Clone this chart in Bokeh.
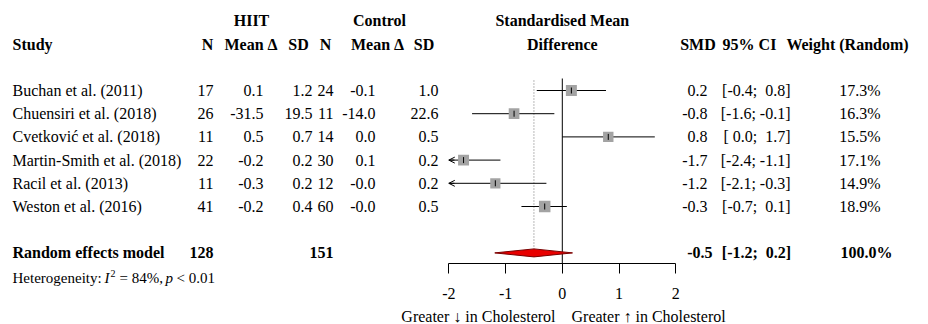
import numpy as np
from bokeh.plotting import figure
from bokeh.models import Range1d, LinearAxis, FixedTicker, Arrow, OpenHead
from bokeh.core.properties import value
from bokeh.embed import file_html
from bokeh.resources import INLINE

# ---------------- data ----------------
studies = ["Buchan et al. (2011)", "Chuensiri et al. (2018)", "Cvetković et al. (2018)",
           "Martin-Smith et al. (2018)", "Racil et al. (2013)", "Weston et al. (2016)"]
hiit_n = ["17", "26", "11", "22", "11", "41"]
hiit_mean = ["0.1", "-31.5", "0.5", "-0.2", "-0.3", "-0.2"]
hiit_sd = ["1.2", "19.5", "0.7", "0.2", "0.2", "0.4"]
ctrl_n = ["24", "11", "14", "30", "12", "60"]
ctrl_mean = ["-0.1", "-14.0", "0.0", "0.1", "-0.0", "-0.0"]
ctrl_sd = ["1.0", "22.6", "0.5", "0.2", "0.2", "0.5"]
smd = [0.16, -0.85, 0.81, -1.74, -1.18, -0.31]
ci_low = [-0.45, -1.59, 0.0, -2.4, -2.1, -0.72]
ci_high = [0.77, -0.14, 1.63, -1.09, -0.28, 0.08]
smd_text = ["0.2", "-0.8", "0.8", "-1.7", "-1.2", "-0.3"]
ci_text = ["[-0.4;  0.8]", "[-1.6; -0.1]", "[ 0.0;  1.7]", "[-2.4; -1.1]", "[-2.1; -0.3]", "[-0.7;  0.1]"]
weights = [17.3, 16.3, 15.5, 17.1, 14.9, 18.9]
weight_text = ["17.3%", "16.3%", "15.5%", "17.1%", "14.9%", "18.9%"]
pooled = {"smd": -0.50, "low": -1.19, "high": 0.18}
pooled_text = {"smd": "-0.5", "ci": "[-1.2;  0.2]", "w": "100.0%"}
total_hiit, total_ctrl = "128", "151"
ticks = [-2, -1, 0, 1, 2]
tick_labels = ["-2", "-1", "0", "1", "2"]

# ---------------- layout constants ----------------
W, H = 928, 324
FONT = "Liberation Serif"
ZERO_PX = 561.8          # page px of SMD 0
SCALE = 56.75            # px per SMD unit
def X(px):
    return (px - ZERO_PX) / SCALE
def Y(py):
    return py

ROW0, DY = 90.0, 23.2
row_y = [Y(ROW0 + DY * i) for i in range(len(studies))]
pool_y = Y(ROW0 + DY * 7)
het_y = Y(277)
h1_y = Y(ROW0 - DY * 3)
h2_y = Y(ROW0 - DY * 2)

p = figure(width=W, height=H, output_backend="svg", toolbar_location=None,
           x_range=Range1d(X(0), X(W)), y_range=Range1d(H, 0),
           x_axis_type=None, y_axis_type=None,
           min_border=0, min_border_left=0, min_border_right=0,
           min_border_top=0, min_border_bottom=0)
p.outline_line_color = None
p.background_fill_color = "white"

def txt(x, y, texts, align="left", bold=False, italic=False, size="16px", color="black"):
    n = len(texts)
    xs = x if isinstance(x, list) else [x] * n
    ys = y if isinstance(y, list) else [y] * n
    style = "bold" if bold else ("italic" if italic else "normal")
    p.text(x=xs, y=ys, text=texts, text_align=align, text_baseline="middle",
           text_font=value(FONT), text_font_size=value(size), text_font_style=style,
           text_color=color)

nb = lambda s: s.replace(" ", "\u00a0")

# headers
txt(X(251), h1_y, ["HIIT"], "center", bold=True)
txt(X(379), h1_y, ["Control"], "center", bold=True)
txt(0, h1_y, ["Standardised Mean"], "center", bold=True)
txt(X(12), h2_y, ["Study"], "left", bold=True)
txt(X(207), h2_y, ["N"], "center", bold=True)
txt(X(250.5), h2_y, ["Mean Δ"], "center", bold=True)
txt(X(298), h2_y, ["SD"], "center", bold=True)
txt(X(325), h2_y, ["N"], "center", bold=True)
txt(X(377), h2_y, ["Mean Δ"], "center", bold=True)
txt(X(423.5), h2_y, ["SD"], "center", bold=True)
txt(0, h2_y, ["Difference"], "center", bold=True)
txt(X(697.5), h2_y, ["SMD"], "center", bold=True)
txt(X(749), h2_y, ["95% CI"], "center", bold=True)
txt(X(847), h2_y, ["Weight (Random)"], "center", bold=True)

# study rows
txt(X(12), row_y, studies, "left")
txt(X(213), row_y, hiit_n, "right")
txt(X(263), row_y, hiit_mean, "right")
txt(X(312), row_y, hiit_sd, "right")
txt(X(333), row_y, ctrl_n, "right")
txt(X(375), row_y, ctrl_mean, "right")
txt(X(438), row_y, ctrl_sd, "right")
txt(X(707), row_y, smd_text, "right")
txt(X(790), row_y, [nb(s) for s in ci_text], "right")
txt(X(880), row_y, weight_text, "right")

# pooled row
txt(X(12), pool_y, ["Random effects model"], "left", bold=True)
txt(X(213), pool_y, [total_hiit], "right", bold=True)
txt(X(333), pool_y, [total_ctrl], "right", bold=True)
txt(X(712), pool_y, [pooled_text["smd"]], "right", bold=True)
txt(X(756), pool_y, [nb(pooled_text["ci"])], "center", bold=True)
txt(X(866), pool_y, [pooled_text["w"]], "center", bold=True)

# heterogeneity
HS = "15px"
txt(X(12), het_y, ["Heterogeneity:"], "left", size=HS)
txt(X(104), het_y, ["I"], "left", italic=True, size=HS)
txt(X(110), het_y - 4, ["2"], "left", size="10px")
txt(X(119), het_y, ["= 84%,"], "left", size=HS)
txt(X(165), het_y, ["p"], "left", italic=True, size=HS)
txt(X(176), het_y, ["< 0.01"], "left", size=HS)

# reference lines
p.segment(x0=[0], y0=[Y(78)], x1=[0], y1=[Y(263)], line_color="black", line_width=1)
p.segment(x0=[pooled["smd"]], y0=[Y(80)], x1=[pooled["smd"]], y1=[pool_y - 4],
          line_color="#707070", line_width=1, line_dash="1 2")

# CIs
lo = np.clip(ci_low, ticks[0], ticks[-1])
hi = np.clip(ci_high, ticks[0], ticks[-1])
p.segment(x0=lo, y0=row_y, x1=hi, y1=row_y, line_color="black", line_width=1)
arrow_idx = [i for i, v in enumerate(ci_low) if v < ticks[0]]
for i in arrow_idx:
    p.add_layout(Arrow(end=OpenHead(size=6, line_width=1, line_color="black"),
                       x_start=ticks[0] + 0.1, y_start=row_y[i], x_end=ticks[0], y_end=row_y[i],
                       line_color="black", line_width=1))

# squares
sizes = [11.0 * np.sqrt(w / 17.3) for w in weights]
p.scatter(x=smd, y=row_y, size=sizes, marker="square", fill_color="#a3a3a3",
          line_color=None)
p.scatter(x=smd, y=row_y, size=6, marker="dash", angle=np.pi / 2, line_color="black",
          line_width=1)

# diamond
p.patch(x=[pooled["low"], pooled["smd"], pooled["high"], pooled["smd"]],
        y=[pool_y, pool_y - 4, pool_y, pool_y + 4],
        fill_color="#e80000", line_color="#7a0000", line_width=1)

# axis
ax = LinearAxis(ticker=FixedTicker(ticks=ticks), bounds=(ticks[0], ticks[-1]),
                fixed_location=Y(263))
ax.major_label_overrides = {t: l for t, l in zip(ticks, tick_labels)}
ax.major_tick_in = 0
ax.major_tick_out = 10
ax.minor_tick_in = 0
ax.minor_tick_out = 0
ax.axis_line_color = "black"
ax.major_tick_line_color = "black"
ax.major_label_text_font = FONT
ax.major_label_text_font_size = "16px"
ax.major_label_text_color = "black"
ax.major_label_standoff = 14
p.add_layout(ax, "below")

txt(X(555), Y(316), ["Greater ↓ in Cholesterol"], "right")
txt(X(571), Y(316), ["Greater ↑ in Cholesterol"], "left")

open("out.html", "w").write(file_html(p, INLINE))
